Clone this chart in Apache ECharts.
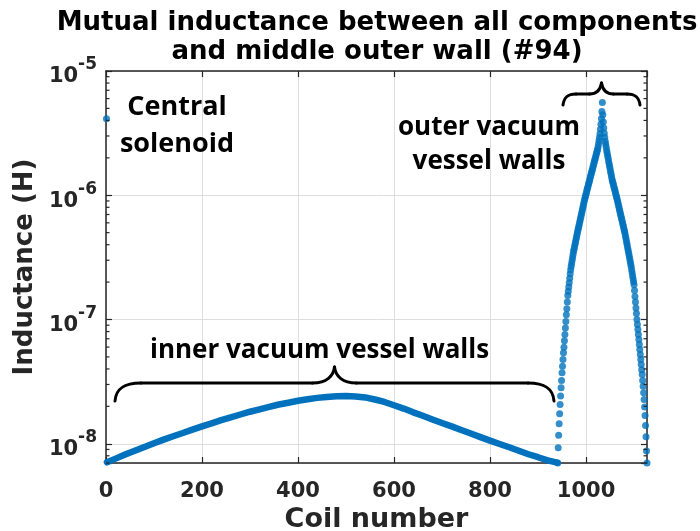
<!DOCTYPE html>
<html>
<head>
<meta charset="utf-8">
<script src="https://cdn.jsdelivr.net/npm/echarts@6/dist/echarts.min.js"></script>
<style>
  html, body { margin: 0; padding: 0; background: #ffffff; }
  #main { width: 700px; height: 531px; }
</style>
</head>
<body>
<div id="main"></div>
<script>
// Axis ticks
const xTickValues = [0, 200, 400, 600, 800, 1000];

// Coil 1: central solenoid
const solenoidCoils = [1];
const solenoidValues = [4.12e-6];

// Inner vacuum vessel wall coils (every 20th coil of 2..940)
const innerCoils = [2, 20, 40, 60, 80, 100, 120, 140, 160, 180, 200, 220, 240, 260, 280, 300,
  320, 340, 360, 380, 400, 420, 440, 460, 480, 500, 520, 540, 560, 580, 600, 620, 640, 660,
  680, 700, 720, 740, 760, 780, 800, 820, 840, 860, 880, 900, 920, 940];
const innerValues = [7.09e-9, 7.59e-9, 8.19e-9, 8.80e-9, 9.43e-9, 1.01e-8, 1.08e-8, 1.15e-8,
  1.22e-8, 1.30e-8, 1.38e-8, 1.46e-8, 1.55e-8, 1.63e-8, 1.72e-8, 1.81e-8, 1.89e-8, 1.98e-8,
  2.07e-8, 2.14e-8, 2.22e-8, 2.28e-8, 2.34e-8, 2.38e-8, 2.41e-8, 2.42e-8, 2.40e-8, 2.36e-8,
  2.27e-8, 2.17e-8, 2.04e-8, 1.92e-8, 1.79e-8, 1.68e-8, 1.57e-8, 1.47e-8, 1.38e-8, 1.29e-8,
  1.21e-8, 1.13e-8, 1.06e-8, 9.96e-9, 9.37e-9, 8.79e-9, 8.23e-9, 7.79e-9, 7.34e-9, 7.04e-9];

// Outer vacuum vessel wall coils 941..1127 (middle outer wall #94 = coil 1034)
const outerFirstCoil = 941;
const outerValues = [
  7.01e-9, 9.29e-9, 1.17e-8, 1.45e-8, 1.74e-8, 2.07e-8, 2.42e-8, 2.82e-8, 3.23e-8, 3.72e-8,
  4.21e-8, 4.76e-8, 5.40e-8, 5.97e-8, 6.73e-8, 7.59e-8, 8.55e-8, 9.64e-8, 1.09e-7, 1.22e-7,
  1.38e-7, 1.56e-7, 1.69e-7, 1.83e-7, 1.98e-7, 2.15e-7, 2.33e-7, 2.52e-7, 2.67e-7, 2.82e-7,
  2.98e-7, 3.15e-7, 3.33e-7, 3.52e-7, 3.67e-7, 3.84e-7, 4.01e-7, 4.19e-7, 4.38e-7, 4.57e-7,
  4.78e-7, 4.99e-7, 5.20e-7, 5.42e-7, 5.64e-7, 5.87e-7, 6.12e-7, 6.38e-7, 6.65e-7, 6.92e-7,
  7.21e-7, 7.52e-7, 7.83e-7, 8.17e-7, 8.49e-7, 8.85e-7, 9.23e-7, 9.55e-7, 9.89e-7, 1.02e-6,
  1.06e-6, 1.10e-6, 1.14e-6, 1.17e-6, 1.22e-6, 1.26e-6, 1.30e-6, 1.35e-6, 1.40e-6, 1.45e-6,
  1.50e-6, 1.55e-6, 1.60e-6, 1.66e-6, 1.72e-6, 1.78e-6, 1.84e-6, 1.91e-6, 1.97e-6, 2.04e-6,
  2.11e-6, 2.19e-6, 2.26e-6, 2.34e-6, 2.45e-6, 2.58e-6, 2.74e-6, 2.92e-6, 3.13e-6, 3.39e-6,
  3.72e-6, 4.12e-6, 4.72e-6, 5.57e-6,
  4.44e-6, 3.89e-6, 3.47e-6, 3.16e-6, 2.92e-6, 2.72e-6, 2.57e-6, 2.43e-6, 2.29e-6, 2.19e-6,
  2.08e-6, 1.99e-6, 1.89e-6, 1.80e-6, 1.72e-6, 1.64e-6, 1.56e-6, 1.49e-6, 1.42e-6, 1.35e-6,
  1.30e-6, 1.26e-6, 1.22e-6, 1.17e-6, 1.14e-6, 1.10e-6, 1.06e-6, 1.02e-6, 9.86e-7, 9.53e-7,
  9.20e-7, 8.85e-7, 8.51e-7, 8.20e-7, 7.89e-7, 7.59e-7, 7.29e-7, 7.01e-7, 6.76e-7, 6.50e-7,
  6.25e-7, 6.01e-7, 5.78e-7, 5.57e-7, 5.36e-7, 5.15e-7, 4.97e-7, 4.73e-7, 4.52e-7, 4.31e-7,
  4.11e-7, 3.92e-7, 3.73e-7, 3.56e-7, 3.40e-7, 3.24e-7, 3.09e-7, 2.94e-7, 2.81e-7, 2.68e-7,
  2.53e-7, 2.39e-7, 2.25e-7, 2.13e-7, 2.01e-7, 1.90e-7, 1.71e-7, 1.53e-7, 1.38e-7, 1.24e-7,
  1.12e-7, 1.00e-7, 9.10e-8, 8.30e-8, 7.57e-8, 6.90e-8, 6.28e-8, 5.73e-8, 5.22e-8, 4.76e-8,
  4.34e-8, 3.95e-8, 3.61e-8, 3.23e-8, 2.90e-8, 2.57e-8, 2.27e-8, 1.98e-8, 1.69e-8, 1.40e-8,
  1.14e-8, 8.73e-9, 7.01e-9];

const X_MIN = 0, X_MAX = 1127;
const Y_MIN = 7.0e-9, Y_MAX = 1e-5;

const BLUE = '#0072BD';
const AXIS = '#262626';
const GRID = '#dedede';
const TICK_FONT = 'DejaVu Sans';
const NOTE_FONT = 'Open Sans';

// Log minor tick positions (2..9 x 10^n) inside the y range
const minorTicks = [];
for (let e = -9; e <= -6; e++) {
  for (let m = 2; m <= 9; m++) {
    const v = m * Math.pow(10, e);
    if (v > Y_MIN && v < Y_MAX) minorTicks.push([0, v]);
  }
}

function pairs(xs, ys) { return xs.map((x, i) => [x, ys[i]]); }
const outerData = outerValues.map((v, i) => [outerFirstCoil + i, v]);

function decadeLabel(v) {
  const e = Math.round(Math.log10(v));
  if (Math.abs(Math.log10(v) - e) > 1e-6) return '';
  return '{b|10}{s|' + e + '}';
}

// Curly brace built from bezier curves and straight runs
function brace(x0, x1, yEnd, yBar, yTip, r, tipHalf) {
  const xm = (x0 + x1) / 2;
  const st = { stroke: '#000', lineWidth: 3, lineCap: 'round', fill: null };
  const bz = (a, b, c, d) => ({ type: 'bezierCurve', silent: true, z: 10, style: st,
    shape: { x1: a[0], y1: a[1], cpx1: b[0], cpy1: b[1], cpx2: c[0], cpy2: c[1], x2: d[0], y2: d[1] } });
  const ln = (a, b) => ({ type: 'line', silent: true, z: 10, style: st,
    shape: { x1: a[0], y1: a[1], x2: b[0], y2: b[1] } });
  const d = yEnd - yBar, t = yBar - yTip;
  return [
    bz([x0, yEnd], [x0 + 1, yBar + d * 0.3], [x0 + r * 0.35, yBar], [x0 + r, yBar]),
    ln([x0 + r, yBar], [xm - tipHalf, yBar]),
    bz([xm - tipHalf, yBar], [xm - tipHalf * 0.35, yBar], [xm - 1, yBar - t * 0.45], [xm, yTip]),
    bz([xm, yTip], [xm + 1, yBar - t * 0.45], [xm + tipHalf * 0.35, yBar], [xm + tipHalf, yBar]),
    ln([xm + tipHalf, yBar], [x1 - r, yBar]),
    bz([x1 - r, yBar], [x1 - r * 0.35, yBar], [x1 - 1, yBar + d * 0.3], [x1, yEnd])
  ];
}

const chart = echarts.init(document.getElementById('main'), null, { renderer: 'canvas' });

const commonX = {
  type: 'value', min: X_MIN, max: X_MAX, interval: 200,
  axisLine: { show: true, onZero: false, lineStyle: { color: AXIS, width: 1.5 } },
  axisTick: { show: true, inside: true, length: 6, lineStyle: { color: AXIS, width: 1.2 } }
};
const commonY = {
  type: 'log', logBase: 10, min: Y_MIN, max: Y_MAX,
  axisLine: { show: true, onZero: false, lineStyle: { color: AXIS, width: 1.5 } },
  axisTick: { show: true, inside: true, length: 6, lineStyle: { color: AXIS, width: 1.2 } }
};

chart.setOption({
  animation: false,
  backgroundColor: '#ffffff',
  title: {
    text: 'Mutual inductance between all components\nand middle outer wall (#94)',
    left: 372, top: 4, textAlign: 'center',
    textStyle: { fontFamily: TICK_FONT, fontWeight: 'bold', fontSize: 26, lineHeight: 29, color: '#000' }
  },
  grid: { left: 106, right: 53, top: 71, bottom: 68, containLabel: false, outerBoundsMode: 'none' },
  xAxis: [
    Object.assign({}, commonX, {
      position: 'bottom',
      name: 'Coil number', nameLocation: 'middle', nameGap: 42,
      nameTextStyle: { fontFamily: TICK_FONT, fontWeight: 'bold', fontSize: 27, color: AXIS },
      axisLabel: {
        show: true, margin: 18, showMaxLabel: false,
        fontFamily: TICK_FONT, fontWeight: 'bold', fontSize: 21, color: AXIS,
        formatter: v => (xTickValues.indexOf(v) >= 0 ? String(v) : '')
      },
      splitLine: { show: true, lineStyle: { color: GRID, width: 1 } }
    }),
    Object.assign({}, commonX, {
      position: 'top', axisLabel: { show: false }, splitLine: { show: false }
    })
  ],
  yAxis: [
    Object.assign({}, commonY, {
      position: 'left',
      name: 'Inductance (H)', nameLocation: 'middle', nameGap: 65, nameRotate: 90,
      nameTextStyle: { fontFamily: TICK_FONT, fontWeight: 'bold', fontSize: 26, color: AXIS },
      axisLabel: {
        show: true, margin: 9,
        formatter: decadeLabel,
        rich: {
          b: { fontFamily: TICK_FONT, fontWeight: 'bold', fontSize: 21, color: AXIS, padding: [12, 0, 0, 0] },
          s: { fontFamily: TICK_FONT, fontWeight: 'bold', fontSize: 17, color: AXIS, padding: [0, 0, 12, 0] }
        }
      },
      splitLine: { show: true, lineStyle: { color: GRID, width: 1 } }
    }),
    Object.assign({}, commonY, {
      position: 'right', axisLabel: { show: false }, splitLine: { show: false }
    })
  ],
  graphic: [].concat(
    brace(115, 554, 401, 383, 367, 26, 22),
    brace(563, 640, 105, 94, 83, 13, 12),
    [
      { type: 'text', silent: true, z: 10, x: 177, y: 89,
        style: { text: 'Central\nsolenoid', fontFamily: NOTE_FONT, fontWeight: 'bold', fontSize: 27, lineHeight: 37, fill: '#000', align: 'center', verticalAlign: 'top' } },
      { type: 'text', silent: true, z: 10, x: 489, y: 111,
        style: { text: 'outer vacuum\nvessel walls', fontFamily: NOTE_FONT, fontWeight: 'bold', fontSize: 26, lineHeight: 34, fill: '#000', align: 'center', verticalAlign: 'top' } },
      { type: 'text', silent: true, z: 10, left: 150, top: 338,
        style: { text: 'inner vacuum vessel walls', fontFamily: NOTE_FONT, fontWeight: 'bold', fontSize: 26, fill: '#000' } }
    ]
  ),
  series: [
    {
      name: 'inner vacuum vessel walls', type: 'line', xAxisIndex: 0, yAxisIndex: 0,
      data: pairs(innerCoils, innerValues), showSymbol: false, clip: false, z: 3,
      lineStyle: { color: BLUE, width: 6.5, cap: 'round', join: 'round' }
    },
    {
      name: 'outer vacuum vessel walls', type: 'scatter', xAxisIndex: 0, yAxisIndex: 0,
      data: outerData, symbolSize: 7, clip: false, z: 3,
      itemStyle: { color: BLUE }
    },
    {
      name: 'central solenoid', type: 'scatter', xAxisIndex: 0, yAxisIndex: 0,
      data: pairs(solenoidCoils, solenoidValues), symbolSize: 7, clip: false, z: 3,
      itemStyle: { color: BLUE }
    },
    {
      name: 'minor ticks', type: 'custom', xAxisIndex: 0, yAxisIndex: 0, silent: true, z: 4,
      data: minorTicks, clip: false,
      renderItem: function (params, api) {
        const cs = params.coordSys;
        const y = api.coord([X_MIN, api.value(1)])[1];
        const st = { stroke: AXIS, lineWidth: 1.2 };
        return { type: 'group', children: [
          { type: 'line', shape: { x1: cs.x, y1: y, x2: cs.x + 3.5, y2: y }, style: st },
          { type: 'line', shape: { x1: cs.x + cs.width - 3.5, y1: y, x2: cs.x + cs.width, y2: y }, style: st }
        ] };
      }
    }
  ]
});
</script>
</body>
</html>
